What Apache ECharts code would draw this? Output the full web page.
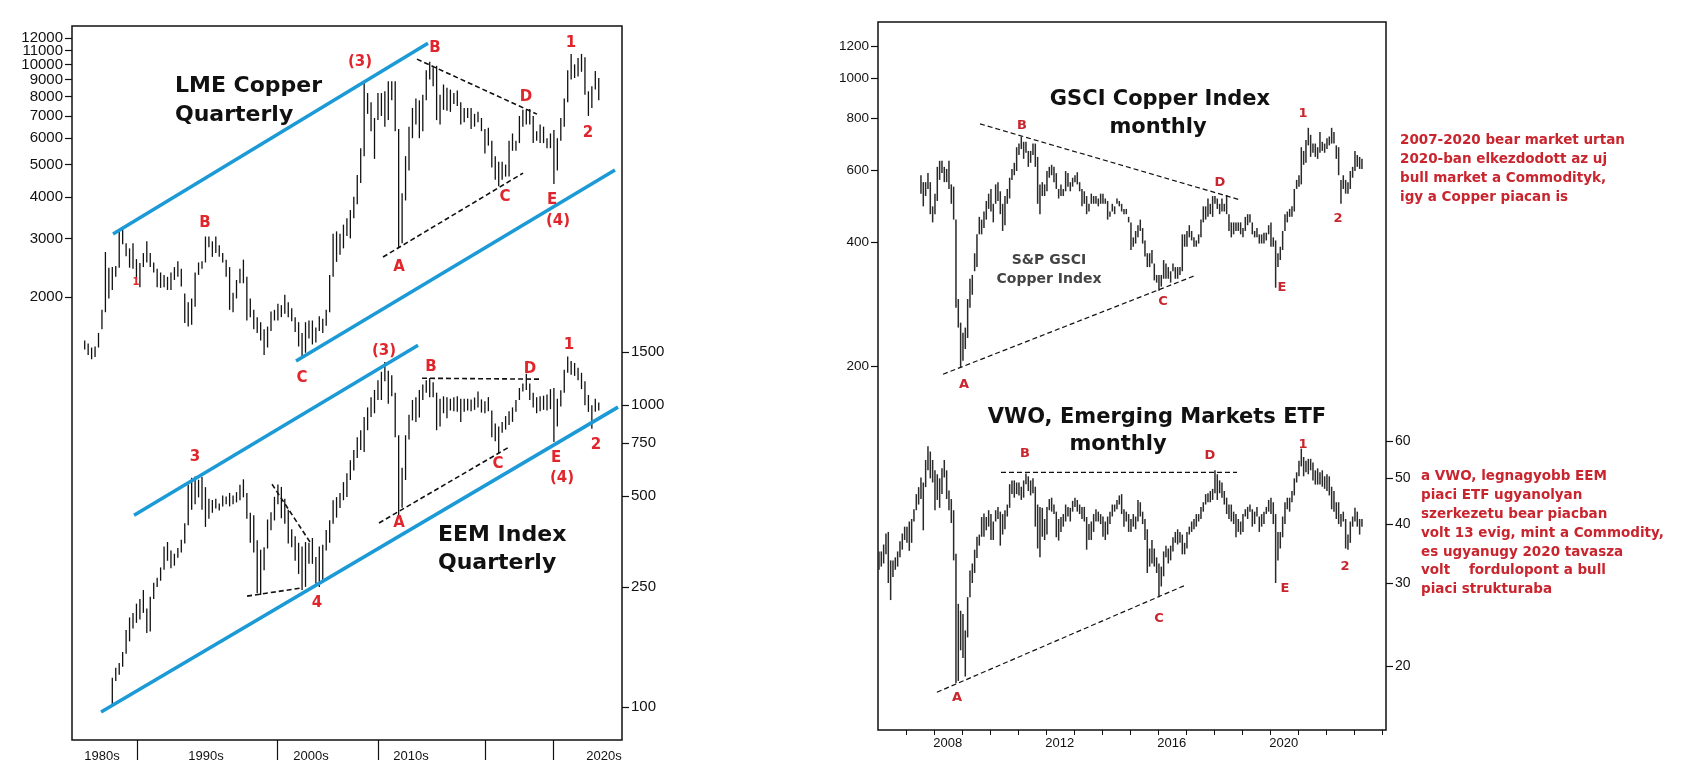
<!DOCTYPE html>
<html>
<head>
<meta charset="utf-8">
<title>LME Copper / EEM / GSCI Copper / VWO</title>
<script src="https://cdn.jsdelivr.net/npm/echarts@6.0.0/dist/echarts.min.js"></script>
<style>
  html, body { margin: 0; padding: 0; background: #fff; }
  #chart { width: 1682px; height: 780px; }
</style>
</head>
<body>
<div id="chart"></div>
<script>
// ---- LME copper, quarterly high / low, from 1986 Q1 ----
const lmeStart = 1986;
const lmeHigh = [
  1480,1450,1410,1420, 1560,1830,2730,2450, 2460,2480,3200,3250, 2900,2800,2900,2600,
  2530,2710,2940,2710, 2540,2430,2370,2330, 2300,2370,2460,2560, 2430,2050,1930,1980,
  2370,2540,2560,3040, 3040,2940,3040,2860, 2710,2590,2460,2060, 2250,2430,2590,2300,
  1980,1830,1740,1680, 1600,1630,1810,1830, 1910,1890,2030,1930, 1850,1740,1680,1560,
  1680,1700,1700,1620, 1750,1720,1830,2330, 3100,3150,3100,3300, 3450,3650,4000,4650,
  5600,8800,8200,7700, 6900,8200,8200,8300, 8900,8900,8900,6400, 4100,5300,6500,7400,
  7900,7800,8100,9600, 10190,9800,9900,8100, 8700,8500,8400,8200, 8350,7700,7400,7400,
  7400,7100,7200,6900, 6400,6450,5900,5300, 5100,5100,5000,5900, 6200,5900,7000,7300,
  7300,7350,7000,6300, 6600,6500,6000,6200, 6350,6000,6900,7900, 9600,10750,10000,10450,
  10750,10500,8300,8600, 9550,9100
];
const lmeLow = [
  1390,1340,1300,1320, 1410,1600,1800,1980, 2100,2300,2450,2880, 2650,2450,2430,2250,
  2140,2460,2540,2460, 2370,2140,2130,2140, 2100,2100,2250,2300, 2150,1670,1630,1650,
  1870,2330,2430,2540, 2820,2640,2710,2640, 2540,2300,1830,1800, 1980,2200,2200,1700,
  1740,1600,1560,1480, 1340,1410,1580,1700, 1700,1740,1780,1740, 1690,1570,1420,1320,
  1360,1500,1440,1460, 1580,1560,1640,1800, 2300,2550,2680,2800, 3050,3000,3450,3800,
  4400,5300,7100,6300, 5200,6800,7000,6500, 6800,7800,6300,2820, 2900,3900,4800,6000,
  6600,6000,6300,7800, 9000,8600,6800,6600, 7300,7250,7200,7600, 7500,6600,6700,6900,
  6400,6500,6700,6300, 5400,5700,4900,4500, 4300,4500,4600,4600, 5500,5500,5800,6500,
  6600,6600,5800,5900, 5800,5800,5600,5600, 4370,4800,5900,6500, 7700,9000,9100,9200,
  9500,8100,7000,7400, 8400,7800
];

// ---- EEM index, quarterly high / low, from 1988 Q1 ----
const eemStart = 1988;
const eemHigh = [
  125,135,140,152, 180,198,205,220, 228,244,212,232, 258,268,290,340, 352,330,322,336,
  358,406,545,575, 580,566,578,535, 490,485,490,472, 502,498,512,502, 515,545,568,512,
  440,432,357,332, 338,418,442,497, 546,536,490,450, 388,368,350,340, 352,350,363,314,
  340,345,386,416, 484,496,512,556, 595,657,710,783, 826,914,983,1063, 1123,1210,1290,1390,
  1300,1255,1100,795, 620,795,930,1040, 1063,1123,1170,1210, 1230,1190,1100,1050,
  1070,1063,1050,1063, 1070,1050,1050,1050, 1045,1060,1110,1045, 1030,1063,960,870,
  850,880,920,955, 983,1040,1140,1180, 1270,1180,1100,1063, 1070,1075,1085,1130,
  1140,1050,1120,1310, 1450,1400,1380,1330, 1280,1200,1080,1000, 1050,1020
];
const eemLow = [
  100,122,128,136, 150,165,182,190, 195,205,176,178, 228,250,262,285, 305,288,294,312,
  325,348,400,450, 470,495,450,395, 420,440,455,448, 462,470,462,470, 476,484,495,420,
  350,325,238,235, 284,335,385,415, 470,422,405,348, 338,305,276,244, 250,298,298,256,
  250,262,330,350, 405,424,456,484, 496,565,608,668, 710,700,826,914, 940,1040,1040,1200,
  1010,1070,783,430, 457,565,770,890, 880,910,1040,1100, 1063,1063,826,850,
  940,905,960,955, 950,880,950,960, 955,965,983,945, 940,955,783,760,
  690,810,830,860, 880,950,1040,1110, 1123,1040,983,940, 955,965,960,970,
  755,850,990,1100, 1280,1260,1250,1210, 1130,1000,950,835, 950,960
];

// ---- S&P GSCI copper index, monthly high / low, from Jul 2007 ----
const gsciStart = [2007, 7];
const gsciHigh = [
  582,560,560,589,560,489,
  525,610,631,631,610,603,631,553,546,454,291,255,
  241,248,291,326,333,376,418,461,454,475,504,525,
  539,496,553,560,532,496,518,539,574,603,624,681,
  695,723,702,702,667,667,695,695,645,553,560,553,
  596,610,617,610,589,539,553,539,596,589,560,574,
  582,592,560,539,532,518,496,525,518,518,511,525,
  525,511,504,475,496,489,511,504,496,482,482,461,
  447,411,426,440,454,433,404,376,376,383,355,333,
  333,333,362,355,348,340,355,348,348,348,418,418,
  426,440,426,411,404,418,454,489,489,511,496,518,
  518,511,496,511,496,521,468,447,447,447,447,447,
  433,461,468,468,447,426,433,418,418,422,422,440,
  447,411,404,376,390,426,468,475,482,489,539,567,
  582,681,667,709,759,730,695,695,681,741,702,695,
  716,723,759,741,688,681,567,582,567,560,596,610,
  667,652,645,638
];
const gsciLow = [
  525,489,518,539,468,447,
  468,504,567,589,560,560,539,496,454,277,248,199,
  206,220,234,277,298,340,348,418,418,433,454,482,
  475,447,496,504,468,426,440,496,511,567,582,596,
  652,674,638,660,610,624,652,610,496,468,518,518,
  532,574,582,560,539,511,518,518,532,546,532,546,
  560,553,532,489,496,468,475,496,496,496,489,496,
  496,496,454,461,475,468,496,489,475,468,468,447,
  383,390,397,411,426,397,369,348,348,355,323,319,
  305,312,326,326,326,319,340,326,326,333,340,390,
  390,411,404,390,390,397,411,447,454,461,468,461,
  496,482,468,475,475,468,426,411,418,426,426,418,
  411,426,440,447,418,411,411,397,397,397,404,418,
  390,390,310,348,362,383,426,447,461,461,475,539,
  546,553,617,624,688,645,660,645,638,660,667,660,
  674,688,695,695,638,582,496,539,525,525,539,574,
  596,610,603,603
];

// ---- VWO ETF, monthly high / low, from Jan 2006 ----
const vwoStart = [2006, 1];
const vwoHigh = [
  35.0,35.0,36.2,38.2,38.5,33.5,33.5,34.0,35.0,36.8,38.2,39.5,
  39.5,40.5,41.0,43.0,46.3,47.9,50.2,49.0,54.7,58.5,57.0,54.7,
  52.0,51.0,50.0,52.5,54.7,52.0,47.1,45.2,42.8,34.6,27.1,26.2,
  25.8,23.8,28.0,31.9,33.0,35.3,37.6,38.0,41.4,42.1,41.4,42.8,
  42.0,40.5,42.8,43.5,42.5,42.0,42.8,44.0,48.6,49.5,49.5,49.0,
  49.0,48.0,49.5,51.2,50.5,49.5,50.0,48.0,44.0,43.5,43.3,41.0,
  43.5,45.2,45.5,44.0,42.5,41.0,41.4,42.0,44.0,43.5,43.3,44.8,
  45.5,45.0,44.0,43.5,43.5,41.4,40.0,40.5,42.0,43.0,42.5,42.0,
  41.5,40.5,41.5,42.5,44.0,44.0,45.0,46.0,46.3,43.0,42.5,42.0,
  41.0,42.0,41.5,45.0,44.5,42.5,41.0,39.0,35.5,37.0,35.5,34.0,
  33.0,32.5,35.0,36.0,35.5,36.0,37.5,38.5,39.0,38.5,38.0,36.5,
  38.5,39.5,40.5,41.0,42.0,42.0,43.5,44.5,46.3,46.5,47.0,47.5,
  52.0,51.0,49.5,49.0,47.0,45.5,44.0,44.0,42.5,42.0,41.0,40.5,
  42.0,43.0,43.5,44.0,43.0,42.5,43.5,41.5,42.0,42.5,43.5,45.0,
  45.5,44.5,42.0,38.5,38.5,41.5,44.5,45.5,45.5,47.0,50.0,51.5,
  54.5,57.8,55.5,54.5,55.0,55.0,54.0,52.0,52.5,51.5,52.0,50.5,
  51.0,50.5,48.0,47.0,44.5,44.5,42.0,42.5,41.0,38.0,40.5,41.5,
  43.3,42.5,41.0,41.0
];
const vwoLow = [
  32.0,32.5,33.0,34.5,30.0,27.6,30.9,32.0,32.5,34.0,35.3,37.0,
  36.5,35.1,36.5,40.5,42.8,44.0,45.2,38.8,47.9,52.0,50.0,49.0,
  42.8,45.0,43.3,46.3,50.2,45.2,42.8,40.2,33.5,18.4,18.6,21.6,
  20.8,19.0,23.0,28.0,30.0,31.5,33.9,36.0,37.6,37.6,38.8,39.5,
  37.0,37.0,40.5,41.0,36.0,38.0,39.0,41.5,43.3,46.3,45.5,46.3,
  46.0,45.0,45.5,48.6,47.0,46.0,46.5,39.5,35.5,34.0,37.6,37.0,
  38.0,42.8,42.5,42.0,37.5,36.9,38.5,39.5,40.5,41.5,40.5,42.5,
  43.5,42.5,42.0,41.0,40.5,35.3,37.0,37.0,38.5,40.5,40.5,40.0,
  37.6,37.0,38.0,40.0,41.5,42.5,43.0,44.0,42.0,39.5,40.5,38.5,
  38.5,39.5,39.0,40.5,41.5,40.0,37.0,31.5,32.5,33.0,32.5,31.5,
  28.0,29.5,31.0,34.0,33.0,33.5,35.0,36.5,36.2,36.5,34.5,34.5,
  35.5,38.0,38.5,39.0,39.5,40.5,41.0,42.5,44.0,44.5,44.5,45.0,
  46.5,45.0,46.5,45.5,44.0,42.0,41.0,40.5,40.0,37.5,38.5,38.0,
  38.5,41.5,41.0,42.5,39.5,40.0,41.5,38.5,39.5,40.0,42.0,42.5,
  42.0,40.0,30.0,33.5,35.5,37.5,40.0,43.0,42.5,44.5,46.0,49.0,
  50.5,53.0,50.5,51.5,51.0,52.0,49.5,48.5,48.5,48.5,48.0,47.5,
  47.0,46.0,43.0,42.5,41.0,40.0,39.5,40.5,35.5,35.3,36.5,39.5,
  40.5,39.5,38.0,39.5
];

// ---- axis ticks and labels ----
const lmeTicks = [2000, 3000, 4000, 5000, 6000, 7000, 8000, 9000, 10000, 11000, 12000];
const eemTicks = [100, 250, 500, 750, 1000, 1500];
const gsciTicks = [200, 400, 600, 800, 1000, 1200];
const vwoTicks = [20, 30, 40, 50, 60];
const decadeLabels = ['1980s', '1990s', '2000s', '2010s', '2020s'];
const decadeLabelAt = [1987.38, 1994.91, 2002.52, 2009.77, 2023.76];
const decadeSeparators = [1989.91, 2000.06, 2007.38, 2015.13, 2020.06];
const yearLabels = [2008, 2012, 2016, 2020];
const yearTicks = [2007, 2008, 2009, 2010, 2011, 2012, 2013, 2014, 2015, 2016,
                   2017, 2018, 2019, 2020, 2021, 2022, 2023, 2024];

// ---- trend lines, [year, value] ----
const lmeChannelTop = [[1988.18, 3092], [2011.0, 11582]];
const lmeChannelBottom = [[2001.44, 1285], [2024.55, 4813]];
const eemChannelTop = [[1989.7, 432], [2010.28, 1580]];
const eemChannelBottom = [[1987.31, 96.3], [2024.77, 985]];
const lmeTriangleTop = [[2010.2, 10370], [2018.9, 7088]];
const lmeTriangleBottom = [[2007.74, 2637], [2017.89, 4714]];
const eemTriangleTop = [[2010.57, 1228], [2019.26, 1219]];
const eemTriangleBottom = [[2007.45, 407], [2016.87, 726]];
const eemEarlyTop = [[1999.7, 547], [2002.45, 352]];
const eemEarlyBottom = [[1997.89, 233], [2001.87, 248]];
const gsciTriangleTop = [[2009.65, 776], [2018.94, 507]];
const gsciTriangleBottom = [[2008.33, 191], [2017.29, 331]];
const vwoTriangleTop = [[2010.4, 51.5], [2018.83, 51.5]];
const vwoTriangleBottom = [[2008.11, 17.6], [2016.94, 29.6]];

const lg = Math.log10;

function quarterBars(startYear, highs, lows) {
  return highs.map((h, i) => [startYear + i / 4 + 0.125, lg(h), lg(lows[i])]);
}
function monthBars(start, highs, lows) {
  return highs.map((h, i) => [start[0] + (start[1] - 1 + i + 0.5) / 12, lg(h), lg(lows[i])]);
}
function logPoints(pts) {
  return pts.map(p => [p[0], lg(p[1])]);
}

function barSeries(data, xi, yi, color, width) {
  return {
    type: 'custom',
    xAxisIndex: xi,
    yAxisIndex: yi,
    silent: true,
    encode: { x: 0, y: [1, 2] },
    data: data,
    renderItem: function (params, api) {
      const top = api.coord([api.value(0), api.value(1)]);
      const bot = api.coord([api.value(0), api.value(2)]);
      return {
        type: 'line',
        shape: { x1: top[0], y1: top[1], x2: bot[0], y2: bot[1] },
        style: { stroke: color, lineWidth: width }
      };
    }
  };
}

function trend(pts, xi, yi, color, width, dashed) {
  return {
    type: 'line',
    xAxisIndex: xi,
    yAxisIndex: yi,
    silent: true,
    symbol: 'none',
    z: 5,
    data: logPoints(pts),
    lineStyle: { color: color, width: width, type: dashed ? [5, 3] : 'solid' }
  };
}

function logAxis(grid, pos, min, max, ticks, fontSize) {
  const vals = ticks.map(lg);
  return {
    type: 'value',
    gridIndex: grid,
    position: pos,
    min: min,
    max: max,
    splitLine: { show: false },
    axisLine: { show: false },
    axisTick: { show: true, customValues: vals, length: 7, lineStyle: { color: '#111', width: 1.2 } },
    axisLabel: {
      customValues: vals,
      hideOverlap: false,
      showMinLabel: true,
      showMaxLabel: true,
      margin: 9,
      color: '#111',
      fontSize: fontSize,
      fontFamily: '"Liberation Sans", Arial, sans-serif',
      formatter: v => String(Math.round(Math.pow(10, v)))
    }
  };
}

function nearestLabel(v, at, labels) {
  let best = 0;
  at.forEach((a, i) => { if (Math.abs(a - v) < Math.abs(at[best] - v)) best = i; });
  return labels[best];
}

const RED = '#e0262c';
const RED2 = '#c9252e';
const FONT = '"DejaVu Sans", Verdana, sans-serif';

function txt(text, x, y, size, color, weight, align) {
  return {
    type: 'text', x: x, y: y, silent: true, z: 10,
    style: {
      text: text, fill: color,
      font: (weight || 'bold') + ' ' + size + 'px ' + FONT,
      align: align || 'center', verticalAlign: 'middle'
    }
  };
}
function block(text, x, y, size, color, lineHeight) {
  return {
    type: 'text', x: x, y: y, silent: true, z: 10,
    style: {
      text: text, fill: color, lineHeight: lineHeight,
      font: 'bold ' + size + 'px ' + FONT,
      align: 'left', verticalAlign: 'top'
    }
  };
}

const graphics = [
  // left panel titles
  txt('LME Copper', 175, 86, 22, '#111', 'bold', 'left'),
  txt('Quarterly', 175, 115, 22, '#111', 'bold', 'left'),
  txt('EEM Index', 438, 535, 22, '#111', 'bold', 'left'),
  txt('Quarterly', 438, 563, 22, '#111', 'bold', 'left'),
  // LME wave labels
  txt('B', 205, 223, 15, RED), txt('1', 136, 282, 10, RED), txt('C', 302, 378, 15, RED),
  txt('(3)', 360, 62, 15, RED), txt('B', 435, 48, 15, RED), txt('A', 399, 267, 15, RED),
  txt('C', 505, 197, 15, RED), txt('D', 526, 97, 15, RED), txt('E', 552, 200, 15, RED),
  txt('(4)', 558, 221, 15, RED), txt('1', 571, 43, 15, RED), txt('2', 588, 133, 15, RED),
  // EEM wave labels
  txt('3', 195, 457, 15, RED), txt('4', 317, 603, 15, RED), txt('(3)', 384, 351, 15, RED),
  txt('B', 431, 367, 15, RED), txt('A', 399, 523, 15, RED), txt('C', 498, 464, 15, RED),
  txt('D', 530, 369, 15, RED), txt('E', 556, 458, 15, RED), txt('(4)', 562, 478, 15, RED),
  txt('1', 569, 345, 15, RED), txt('2', 596, 445, 15, RED),
  // right panel titles
  txt('GSCI Copper Index', 1160, 100, 21, '#111'),
  txt('monthly', 1158, 128, 21, '#111'),
  txt('VWO, Emerging Markets ETF', 1157, 418, 21, '#111'),
  txt('monthly', 1118, 445, 21, '#111'),
  txt('S&P GSCI', 1049, 260, 14, '#444'),
  txt('Copper Index', 1049, 279, 14, '#444'),
  // GSCI wave labels
  txt('B', 1022, 126, 13, RED2), txt('A', 964, 385, 13, RED2), txt('C', 1163, 302, 13, RED2),
  txt('D', 1220, 183, 13, RED2), txt('E', 1282, 288, 13, RED2), txt('1', 1303, 114, 13, RED2),
  txt('2', 1338, 219, 13, RED2),
  // VWO wave labels
  txt('B', 1025, 454, 13, RED2), txt('A', 957, 698, 13, RED2), txt('C', 1159, 619, 13, RED2),
  txt('D', 1210, 456, 13, RED2), txt('E', 1285, 589, 13, RED2), txt('1', 1303, 445, 13, RED2),
  txt('2', 1345, 567, 13, RED2),
  // comments
  block('2007-2020 bear market urtan\n2020-ban elkezdodott az uj\nbull market a Commodityk,\nigy a Copper piacan is',
        1400, 131, 13.5, RED2, 19),
  block('a VWO, legnagyobb EEM\npiaci ETF ugyanolyan\nszerkezetu bear piacban\nvolt 13 evig, mint a Commodity,\nes ugyanugy 2020 tavasza\nvolt    fordulopont a bull\npiaci strukturaba',
        1421, 467, 13.5, RED2, 18.9)
];

// the copper ticks sit close together; alternate them over two identical axes
// so the library does not drop any label as overlapping
const lmeTicksA = lmeTicks.filter((v, i) => i % 2 === 0);
const lmeTicksB = lmeTicks.filter((v, i) => i % 2 === 1);

const chart = echarts.init(document.getElementById('chart'));
const option = {
  animation: false,
  backgroundColor: '#fff',
  grid: [
    { left: 72, top: 26, width: 550, height: 714, show: true, borderColor: '#111', borderWidth: 1.5,
      backgroundColor: 'transparent', outerBoundsMode: 'none' },
    { left: 878, top: 22, width: 508, height: 708, show: true, borderColor: '#111', borderWidth: 1.5,
      backgroundColor: 'transparent', outerBoundsMode: 'none' }
  ],
  xAxis: [
    {
      type: 'value', gridIndex: 0, min: 1985.2043, max: 2025.0594,
      splitLine: { show: false }, axisLine: { show: false },
      axisTick: { show: true, customValues: decadeSeparators, length: 20, lineStyle: { color: '#111', width: 1.2 } },
      axisLabel: {
        customValues: decadeLabelAt, margin: 10, color: '#111', fontSize: 13,
        fontFamily: '"Liberation Sans", Arial, sans-serif',
        formatter: v => nearestLabel(v, decadeLabelAt, decadeLabels)
      }
    },
    {
      type: 'value', gridIndex: 1, min: 2006.0071, max: 2024.15,
      splitLine: { show: false }, axisLine: { show: false },
      axisTick: { show: true, customValues: yearTicks, length: 5, lineStyle: { color: '#111' } },
      axisLabel: {
        customValues: yearLabels.map(y => y + 0.5), margin: 7, color: '#111', fontSize: 13,
        fontFamily: '"Liberation Sans", Arial, sans-serif',
        formatter: v => String(Math.floor(v))
      }
    }
  ],
  yAxis: [
    logAxis(0, 'left', 1.96990, 4.11533, lmeTicksA, 15),
    logAxis(0, 'right', 1.89067, 4.25609, eemTicks, 15),
    logAxis(1, 'left', 1.41582, 3.13761, gsciTicks, 13.5),
    logAxis(1, 'right', 1.16548, 2.66644, vwoTicks, 14),
    logAxis(0, 'left', 1.96990, 4.11533, lmeTicksB, 15)
  ],
  series: [
    barSeries(quarterBars(lmeStart, lmeHigh, lmeLow), 0, 0, '#111', 1.3),
    barSeries(quarterBars(eemStart, eemHigh, eemLow), 0, 1, '#111', 1.3),
    barSeries(monthBars(gsciStart, gsciHigh, gsciLow), 1, 2, '#2a2a2a', 1.5),
    barSeries(monthBars(vwoStart, vwoHigh, vwoLow), 1, 3, '#2a2a2a', 1.5),
    trend(lmeChannelTop, 0, 0, '#1b9ad6', 3.5, false),
    trend(lmeChannelBottom, 0, 0, '#1b9ad6', 3.5, false),
    trend(eemChannelTop, 0, 1, '#1b9ad6', 3.5, false),
    trend(eemChannelBottom, 0, 1, '#1b9ad6', 3.5, false),
    trend(lmeTriangleTop, 0, 0, '#111', 1.6, true),
    trend(lmeTriangleBottom, 0, 0, '#111', 1.6, true),
    trend(eemTriangleTop, 0, 1, '#111', 1.6, true),
    trend(eemTriangleBottom, 0, 1, '#111', 1.6, true),
    trend(eemEarlyTop, 0, 1, '#111', 1.6, true),
    trend(eemEarlyBottom, 0, 1, '#111', 1.6, true),
    trend(gsciTriangleTop, 1, 2, '#111', 1.2, true),
    trend(gsciTriangleBottom, 1, 2, '#111', 1.2, true),
    trend(vwoTriangleTop, 1, 3, '#111', 1.2, true),
    trend(vwoTriangleBottom, 1, 3, '#111', 1.2, true)
  ],
  graphic: { elements: graphics }
};
chart.setOption(option);
</script>
</body>
</html>
